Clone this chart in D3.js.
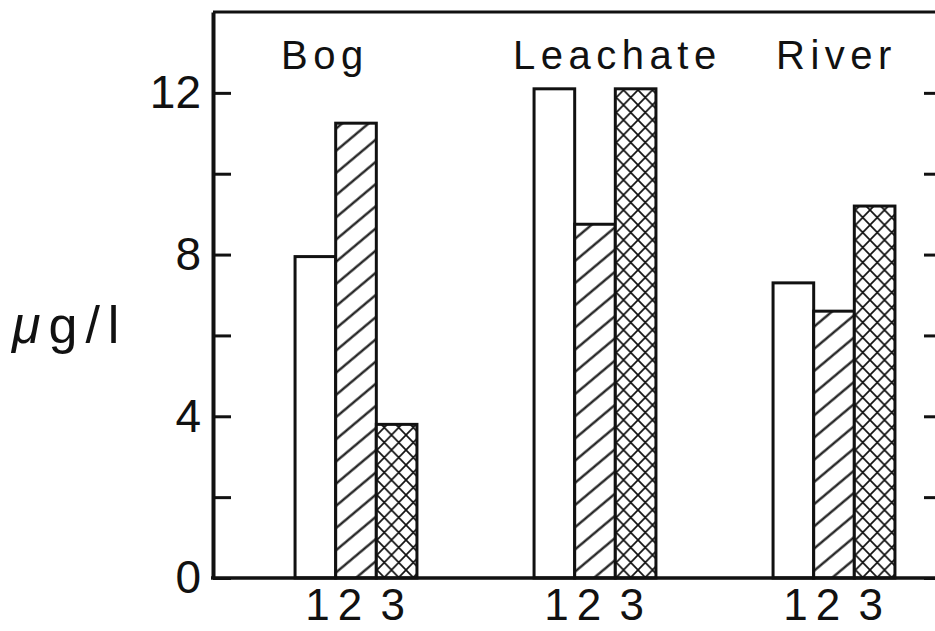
<!DOCTYPE html>
<html><head><meta charset="utf-8">
<script src="https://cdn.jsdelivr.net/npm/d3@7"></script>
<style>html,body{margin:0;padding:0;background:#fff;overflow:hidden;} svg{display:block;}</style>
</head><body>
<svg id="chart" width="935" height="631"></svg>
<script>
// Sample sites and the three fractions measured at each
const groups = ["Bog", "Leachate", "River"];
const series = ["1", "2", "3"];
const seriesOne = [7.95, 12.1, 7.3];
const seriesTwo = [11.25, 8.75, 6.6];
const seriesThree = [3.8, 12.1, 9.2];
const yTicks = [0, 2, 4, 6, 8, 10, 12];
const yTickLabels = ["0", "4", "8", "12"];
const unitLabel = "μg/l";

const seriesValues = [seriesOne, seriesTwo, seriesThree];
const ink = "#111";
const font = "'Liberation Sans', Arial, sans-serif";

const svg = d3.select("#chart");
const frame = {left: 213, right: 940, top: 12, bottom: 578};

const y = d3.scaleLinear().domain([0, 14]).range([frame.bottom, frame.top]);
const x = d3.scaleBand().domain(groups).range([236.5, 953.5])
  .paddingInner(0.49).paddingOuter(0.245);
const xs = d3.scaleBand().domain(series).range([0, x.bandwidth()]);

// Fill patterns: plain, single diagonal hatch, diamond cross-hatch
const defs = svg.append("defs");
const hatch = defs.append("pattern").attr("id", "hatch")
  .attr("patternUnits", "userSpaceOnUse").attr("width", 10).attr("height", 17)
  .attr("patternTransform", "rotate(-40)");
hatch.append("rect").attr("width", 10).attr("height", 17).attr("fill", "#fff");
hatch.append("line").attr("x1", -1).attr("x2", 11).attr("y1", 8.5).attr("y2", 8.5)
  .attr("stroke", ink).attr("stroke-width", 2.2);

const cw = 14.5, ch = 15;
const cross = defs.append("pattern").attr("id", "cross")
  .attr("patternUnits", "userSpaceOnUse").attr("width", cw).attr("height", ch);
cross.append("rect").attr("width", cw).attr("height", ch).attr("fill", "#fff");
cross.append("path").attr("d", `M0,0L${cw},${ch}M${cw},0L0,${ch}`)
  .attr("stroke", ink).attr("stroke-width", 1.7).attr("fill", "none");

const fills = ["#fff", "url(#hatch)", "url(#cross)"];

// Bars
const bars = groups.flatMap((g, i) => series.map((s, j) => ({g, s, j, v: seriesValues[j][i]})));
svg.append("g").selectAll("rect").data(bars).join("rect")
  .attr("x", d => x(d.g) + xs(d.s))
  .attr("y", d => y(d.v))
  .attr("width", xs.bandwidth())
  .attr("height", d => y(0) - y(d.v))
  .attr("fill", d => fills[d.j])
  .attr("stroke", ink).attr("stroke-width", 3);

// Frame: left axis with inward ticks and labels, right inward ticks, top and bottom lines
const left = svg.append("g").attr("transform", `translate(${frame.left},0)`)
  .call(d3.axisLeft(y).tickValues(yTicks).tickSize(-18).tickSizeOuter(0).tickPadding(12)
    .tickFormat(d => yTickLabels.includes(String(d)) ? String(d) : ""));
const right = svg.append("g").attr("transform", `translate(${frame.right},0)`)
  .call(d3.axisRight(y).tickValues(yTicks).tickSize(-16).tickSizeOuter(0).tickFormat(""));
[left, right].forEach(a => {
  a.select(".domain").attr("stroke", ink).attr("stroke-width", 4);
  a.selectAll(".tick line").attr("stroke", ink).attr("stroke-width", 3);
});
left.selectAll(".tick text").attr("fill", ink)
  .style("font-family", font).style("font-size", "46px");

svg.append("line").attr("x1", frame.left).attr("x2", frame.right)
  .attr("y1", y(14)).attr("y2", y(14)).attr("stroke", ink).attr("stroke-width", 3);
svg.append("line").attr("x1", frame.left - 2).attr("x2", frame.right)
  .attr("y1", y(0)).attr("y2", y(0)).attr("stroke", ink).attr("stroke-width", 3.5);

// Site names above the bars
const labelShift = [-14, -21, 3];
svg.append("g").selectAll("text").data(groups).join("text")
  .attr("x", (d, i) => x(d) + labelShift[i])
  .attr("y", 69)
  .attr("fill", ink)
  .style("font-family", font).style("font-size", "40px").style("letter-spacing", "5.5px")
  .text(d => d);

// Fraction numbers under each bar
const digitShift = [2, -6, -4];
svg.append("g").selectAll("text").data(bars).join("text")
  .attr("x", d => x(d.g) + xs(d.s) + xs.bandwidth() / 2 + digitShift[d.j])
  .attr("y", y(0) + 42)
  .attr("text-anchor", "middle")
  .attr("fill", ink)
  .style("font-family", font).style("font-size", "44px")
  .text(d => d.s);

// Unit label
const unit = svg.append("text").attr("x", 12).attr("y", 343).attr("fill", ink)
  .style("font-family", font).style("font-size", "52px").style("letter-spacing", "8px");
unit.append("tspan").style("font-style", "italic").text(unitLabel.slice(0, 1));
unit.append("tspan").text(unitLabel.slice(1));
</script>
</body></html>
